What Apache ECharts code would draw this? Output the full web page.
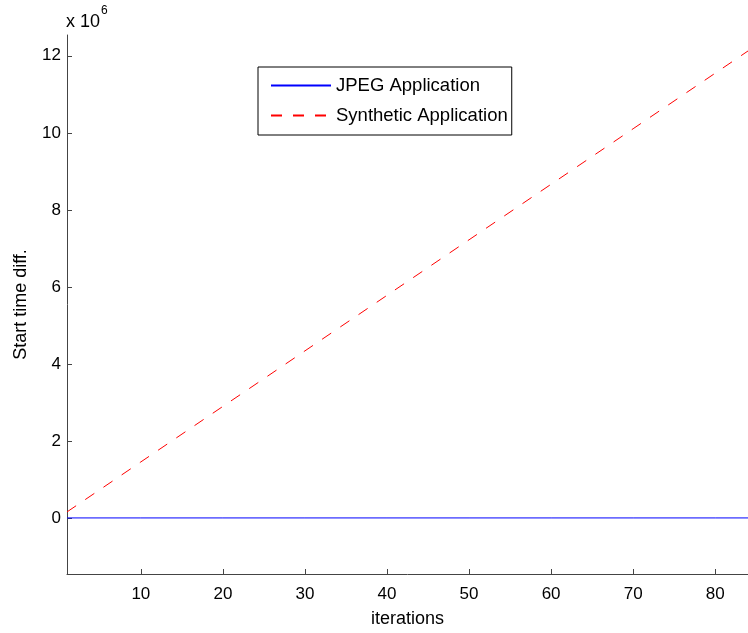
<!DOCTYPE html>
<html>
<head>
<meta charset="utf-8">
<script src="https://cdn.jsdelivr.net/npm/echarts@6/dist/echarts.min.js"></script>
<style>
  html, body { margin: 0; padding: 0; background: #fff; }
  #chart { width: 748px; height: 633px; }
</style>
</head>
<body>
<div id="chart"></div>
<script>
// Iteration numbers at which the start-time differences are sampled
const iterations = [1, 10, 20, 30, 40, 50, 60, 70, 80, 84];
// Start time difference per application
const jpegDiff = [0, 0, 0, 0, 0, 0, 0, 0, 0, 0];
const syntheticDiff = [156000, 1454000, 2896000, 4338000, 5780000, 7222000, 8664000, 10106000, 11548000, 12125000];
// Tick positions
const xTicks = [10, 20, 30, 40, 50, 60, 70, 80];
const yTicks = [0, 2e6, 4e6, 6e6, 8e6, 10e6, 12e6];

const seriesNames = ['JPEG Application', 'Synthetic Application'];
const FONT = '"Liberation Sans", Arial, Helvetica, sans-serif';
const AXIS_COLOR = '#444';

function pairs(xs, ys) {
  return xs.map((x, i) => [x, ys[i]]);
}

const chart = echarts.init(document.getElementById('chart'), null, { renderer: 'canvas' });

chart.setOption({
  animation: false,
  backgroundColor: '#fff',
  textStyle: { fontFamily: FONT },
  grid: { left: 67, top: 35, width: 683, height: 545, containLabel: false },
  xAxis: {
    type: 'value',
    min: 1,
    max: 84,
    name: 'iterations',
    nameLocation: 'middle',
    nameGap: 36,
    nameTextStyle: { fontSize: 18, color: '#000', fontFamily: FONT },
    axisLine: { show: true, onZero: false, lineStyle: { color: AXIS_COLOR, width: 1 } },
    axisTick: { show: true, inside: true, length: 5, customValues: xTicks, lineStyle: { color: AXIS_COLOR } },
    axisLabel: { customValues: xTicks, fontSize: 17, color: '#000', margin: 12, fontFamily: FONT },
    splitLine: { show: false }
  },
  yAxis: {
    type: 'value',
    min: -1.456e6,
    max: 12.54e6,
    name: 'Start time diff.',
    nameLocation: 'middle',
    nameGap: 37,
    nameTextStyle: { fontSize: 18, color: '#000', fontFamily: FONT },
    axisLine: { show: true, onZero: false, lineStyle: { color: AXIS_COLOR, width: 1 } },
    axisTick: { show: true, inside: true, length: 5, customValues: yTicks, lineStyle: { color: AXIS_COLOR } },
    axisLabel: {
      customValues: yTicks,
      fontSize: 17,
      color: '#000',
      margin: 6,
      fontFamily: FONT,
      formatter: v => String(Math.round(v / 1e6))
    },
    splitLine: { show: false }
  },
  legend: {
    orient: 'vertical',
    left: 258,
    top: 67,
    padding: [9, 4, 10, 12],
    itemWidth: 60,
    itemHeight: 14,
    itemGap: 11,
    borderColor: '#000',
    borderWidth: 1,
    borderRadius: 0,
    backgroundColor: '#fff',
    // line-only keys: hide the marker drawn in the middle of each key
    itemStyle: { color: 'rgba(0,0,0,0)', borderColor: 'rgba(0,0,0,0)', borderWidth: 0, opacity: 0 },
    textStyle: { fontSize: 18.5, lineHeight: 18, color: '#000', fontFamily: FONT },
    data: seriesNames
  },
  graphic: [
    {
      type: 'text',
      left: 66,
      top: 13,
      style: { text: 'x 10', fontSize: 18, fill: '#000', fontFamily: FONT }
    },
    {
      type: 'text',
      left: 101,
      top: 5,
      style: { text: '6', fontSize: 12, fill: '#000', fontFamily: FONT }
    }
  ],
  series: [
    {
      name: seriesNames[0],
      type: 'line',
      data: pairs(iterations, jpegDiff),
      symbol: 'none',
      color: '#0000ff',
      lineStyle: { color: '#0000ff', width: 1, type: 'solid' },
      z: 3
    },
    {
      name: seriesNames[1],
      type: 'line',
      data: pairs(iterations, syntheticDiff),
      symbol: 'none',
      color: '#ff0000',
      lineStyle: { color: '#ff0000', width: 1, type: [11, 11] },
      z: 2
    }
  ]
});
</script>
</body>
</html>
